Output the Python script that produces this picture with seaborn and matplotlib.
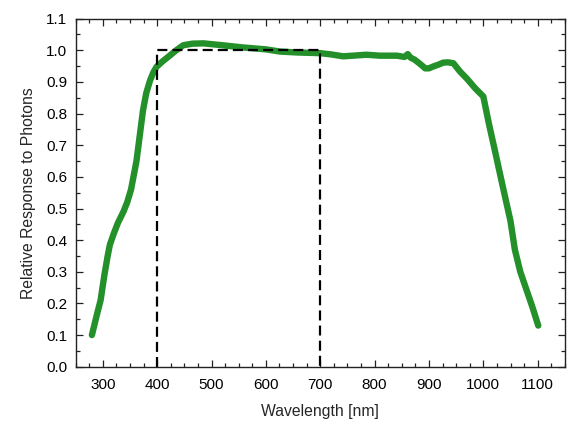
import matplotlib
matplotlib.use("Agg")
from matplotlib import pyplot as plt
from matplotlib.ticker import MultipleLocator
import seaborn as sns

# spectral response
wavelength = [280, 290, 296, 303, 309, 313, 320, 328, 338, 345, 352, 362, 368,
              374, 380, 387, 393, 399, 410, 423, 435, 448, 465, 485, 520, 558,
              600, 626, 660, 700, 720, 742, 760, 785, 810, 841, 855, 861, 866,
              874, 885, 893, 900, 908, 918, 926, 935, 945, 957, 970, 985, 1000,
              1010, 1021, 1037, 1050, 1058, 1068, 1080, 1090, 1101]
response = [0.10, 0.17, 0.21, 0.29, 0.35, 0.385, 0.42, 0.455, 0.49, 0.52, 0.56,
            0.65, 0.73, 0.81, 0.865, 0.905, 0.93, 0.948, 0.965, 0.983, 1.0, 1.016,
            1.021, 1.022, 1.016, 1.009, 1.003, 0.996, 0.993, 0.991, 0.987, 0.981,
            0.983, 0.986, 0.983, 0.983, 0.979, 0.988, 0.977, 0.97, 0.955, 0.943,
            0.943, 0.949, 0.955, 0.961, 0.962, 0.959, 0.933, 0.91, 0.88, 0.854,
            0.77, 0.685, 0.56, 0.46, 0.37, 0.30, 0.24, 0.19, 0.13]

# ideal 400-700 nm window
box_x = [400, 400, 700, 700]
box_y = [0.0, 1.0, 1.0, 0.0]

sns.set_style("ticks")
plt.rcParams['font.family'] = ['Liberation Sans', 'DejaVu Sans']

fig = plt.figure(figsize=(5.77, 4.34), dpi=100)
ax = fig.add_axes([0.131, 0.155, 0.848, 0.802])

sns.lineplot(x=wavelength, y=response, ax=ax, color='#24902a', linewidth=4.6,
             solid_capstyle='round', solid_joinstyle='round')
ax.plot(box_x, box_y, color='black', linewidth=1.6, dashes=(4.5, 2.3))

ax.set_xlim(250, 1150)
ax.set_ylim(0, 1.1)
ax.xaxis.set_major_locator(MultipleLocator(100))
ax.xaxis.set_minor_locator(MultipleLocator(25))
ax.yaxis.set_major_locator(MultipleLocator(0.1))
ax.yaxis.set_minor_locator(MultipleLocator(0.05))
ax.set_xticks(range(300, 1101, 100))
ax.set_yticks([i / 10 for i in range(12)])
ax.set_yticklabels([f'{i / 10:.1f}' for i in range(12)])

for s in ax.spines.values():
    s.set_visible(True)
    s.set_linewidth(1.0)
    s.set_color('#222222')
ax.tick_params(which='both', direction='in', top=True, right=True,
               labelsize=11, width=0.9, colors='#222222', labelcolor='black')
ax.tick_params(which='major', length=5)
ax.tick_params(which='minor', length=3)
ax.tick_params(axis='x', which='major', pad=8)
ax.tick_params(axis='y', which='major', pad=6)

ax.set_xlabel('Wavelength [nm]', fontsize=11.3, labelpad=9)
ax.set_ylabel('Relative Response to Photons', fontsize=11.3, labelpad=7)

fig.savefig('out.png', dpi=100)
